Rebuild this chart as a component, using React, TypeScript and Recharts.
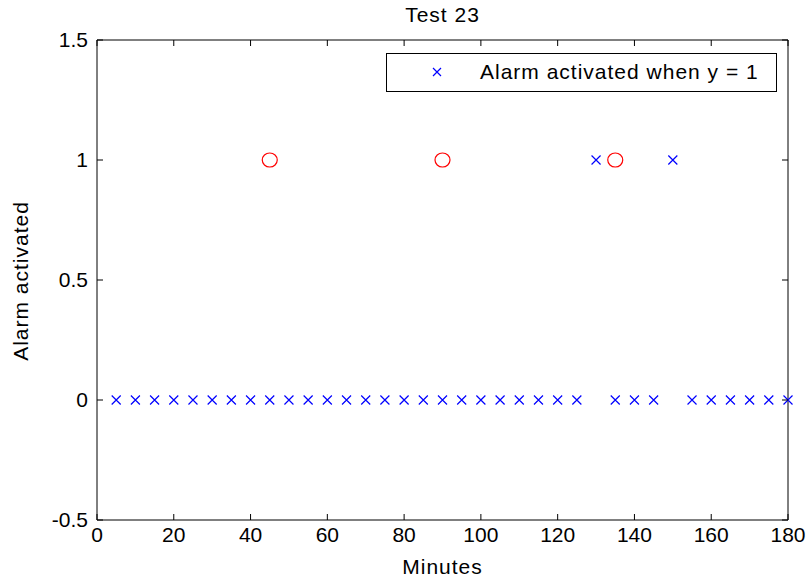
import React from 'react';
import { ScatterChart, Scatter, XAxis, YAxis, Legend } from 'recharts';

// alarm output sampled every 5 minutes
const minutes = [
  5, 10, 15, 20, 25, 30, 35, 40, 45, 50, 55, 60, 65, 70, 75, 80, 85, 90,
  95, 100, 105, 110, 115, 120, 125, 130, 135, 140, 145, 150, 155, 160, 165, 170, 175, 180,
];
const alarmState = [
  0, 0, 0, 0, 0, 0, 0, 0, 0, 0, 0, 0, 0, 0, 0, 0, 0, 0,
  0, 0, 0, 0, 0, 0, 0, 1, 0, 0, 0, 1, 0, 0, 0, 0, 0, 0,
];

// true events (red circles)
const eventMinutes = [45, 90, 135];
const eventLevel = [1, 1, 1];

const xTicks = [0, 20, 40, 60, 80, 100, 120, 140, 160, 180];
const yTicks = [-0.5, 0, 0.5, 1, 1.5];

const alarmData = minutes.map((m, i) => ({ minute: m, value: alarmState[i] }));
const eventData = eventMinutes.map((m, i) => ({ minute: m, value: eventLevel[i] }));

const FONT = '"Liberation Sans", Arial, sans-serif';
const TICK = 6;

const crossPath = (cx: number, cy: number, r: number) =>
  `M${cx - r},${cy - r}L${cx + r},${cy + r}M${cx - r},${cy + r}L${cx + r},${cy - r}`;

const Cross = (props: any) => (
  <path d={crossPath(props.cx, props.cy, 4.5)} stroke="#0000ff" strokeWidth={1.2} fill="none" />
);

const Ring = (props: any) => (
  <ellipse cx={props.cx} cy={props.cy} rx={7.5} ry={7} stroke="#ff0000" strokeWidth={1.2} fill="none" />
);

const BottomTick = ({ x, y, payload }: any) => (
  <g>
    <line x1={x} x2={x} y1={y} y2={y - TICK} stroke="#000" />
    <text x={x} y={y + 22} textAnchor="middle" fontSize={21} fontFamily={FONT} fill="#000">
      {payload.value}
    </text>
  </g>
);

const TopTick = ({ x, y }: any) => <line x1={x} x2={x} y1={y} y2={y + TICK} stroke="#000" />;

const LeftTick = ({ x, y, payload }: any) => (
  <g>
    <line x1={x} x2={x + TICK} y1={y} y2={y} stroke="#000" />
    <text x={x - 9} y={y + 7} textAnchor="end" fontSize={21} fontFamily={FONT} fill="#000">
      {payload.value}
    </text>
  </g>
);

const RightTick = ({ x, y }: any) => <line x1={x} x2={x - TICK} y1={y} y2={y} stroke="#000" />;

const LegendBox = () => (
  <svg width={391} height={39} style={{ display: 'block' }}>
    <rect x={0.5} y={0.5} width={390} height={38} fill="#fff" stroke="#000" />
    <path d={crossPath(51, 19, 4)} stroke="#0000ff" strokeWidth={1.2} fill="none" />
    <text x={94} y={26} fontSize={21} letterSpacing={1} fontFamily={FONT} fill="#000">
      Alarm activated when y = 1
    </text>
  </svg>
);

export default function App() {
  return (
    <div style={{ position: 'absolute', left: 0, top: 0, width: 807, height: 579, background: '#fff' }}>
      <ScatterChart width={807} height={579} margin={{ top: 39, right: 18, bottom: 0, left: 0 }}>
        <XAxis
          dataKey="minute"
          type="number"
          domain={[0, 180]}
          ticks={xTicks}
          height={59}
          tickSize={0}
          tickMargin={0}
          tick={<BottomTick />}
          axisLine={{ stroke: '#000' }}
          label={{
            value: 'Minutes',
            position: 'insideBottom',
            offset: 5,
            fontSize: 21,
            letterSpacing: 1,
            fontFamily: FONT,
            fill: '#000',
          }}
        />
        <XAxis
          xAxisId="top"
          dataKey="minute"
          orientation="top"
          type="number"
          domain={[0, 180]}
          ticks={xTicks}
          height={1}
          tickSize={0}
          tickMargin={0}
          tick={<TopTick />}
          axisLine={{ stroke: '#000' }}
          label={{
            value: 'Test 23',
            position: 'top',
            offset: 17,
            fontSize: 21,
            letterSpacing: 1,
            fontFamily: FONT,
            fill: '#000',
          }}
        />
        <YAxis
          dataKey="value"
          type="number"
          domain={[-0.5, 1.5]}
          ticks={yTicks}
          width={97}
          tickSize={0}
          tickMargin={0}
          tick={<LeftTick />}
          axisLine={{ stroke: '#000' }}
          label={{
            content: () => (
              <text
                transform="translate(28,281) rotate(-90)"
                textAnchor="middle"
                fontSize={21}
                letterSpacing={1}
                fontFamily={FONT}
                fill="#000"
              >
                Alarm activated
              </text>
            ),
          }}
        />
        <YAxis
          yAxisId="right"
          dataKey="value"
          orientation="right"
          type="number"
          domain={[-0.5, 1.5]}
          ticks={yTicks}
          width={1}
          tickSize={0}
          tickMargin={0}
          tick={<RightTick />}
          axisLine={{ stroke: '#000' }}
        />
        <Legend
          layout="vertical"
          align="center"
          verticalAlign="middle"
          content={() => <LegendBox />}
          wrapperStyle={{ position: 'absolute', left: 386, top: 53, width: 391, height: 39 }}
        />
        <Scatter
          name="Alarm activated when y = 1"
          data={alarmData}
          shape={<Cross />}
          isAnimationActive={false}
        />
        <Scatter
          data={eventData}
          xAxisId="top"
          yAxisId="right"
          shape={<Ring />}
          legendType="none"
          isAnimationActive={false}
        />
      </ScatterChart>
    </div>
  );
}
